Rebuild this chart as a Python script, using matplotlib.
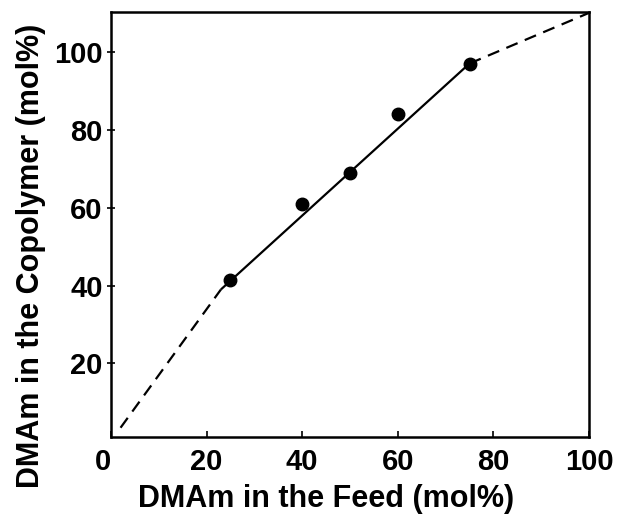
import matplotlib
matplotlib.use("Agg")
import matplotlib.pyplot as plt

plt.rcParams['font.family'] = ['Liberation Sans', 'DejaVu Sans']
plt.rcParams['font.weight'] = 'bold'

# measured points
feed = [25, 40, 50, 60, 75]
copolymer = [41.5, 61, 69, 84, 97]

# fitted line pieces (dashed = extrapolation)
low_x = [2, 23]
low_y = [3.5, 39]
fit_x = [23, 75]
fit_y = [39, 97]
high_x = [75, 100]
high_y = [97, 110]

xticks = [0, 20, 40, 60, 80, 100]
yticks = [20, 40, 60, 80, 100]

fig = plt.figure(figsize=(6.18, 5.25), dpi=100)
ax = fig.add_axes([0.1796, 0.1682, 0.7735, 0.8095])

ax.plot(low_x, low_y, color='black', lw=1.6, dashes=(5.5, 3.5))
ax.plot(fit_x, fit_y, color='black', lw=1.6, solid_capstyle='butt')
ax.plot(high_x, high_y, color='black', lw=1.6, dashes=(5.5, 3.5))
ax.plot(feed, copolymer, 'o', color='black', markersize=9)

ax.set_xlim(0, 100)
ax.set_ylim(1.2, 110.3)
ax.set_xticks(xticks)
ax.set_yticks(yticks)
ax.tick_params(axis='x', direction='in', length=4, width=1.2, pad=8, labelsize=21)
ax.tick_params(axis='y', direction='inout', length=6, width=1.2, pad=3, labelsize=21)
for s in ax.spines.values():
    s.set_linewidth(1.8)
ax.get_xticklabels()[0].set_horizontalalignment('right')

fig.text(0.528, 0.035, "DMAm in the Feed (mol%)", ha='center', va='baseline',
         fontsize=22, fontweight='bold')
fig.text(0.05, 0.512, "DMAm in the Copolymer (mol%)", ha='center', va='center',
         rotation=90, fontsize=22, fontweight='bold')

fig.savefig("out.png", dpi=100)
